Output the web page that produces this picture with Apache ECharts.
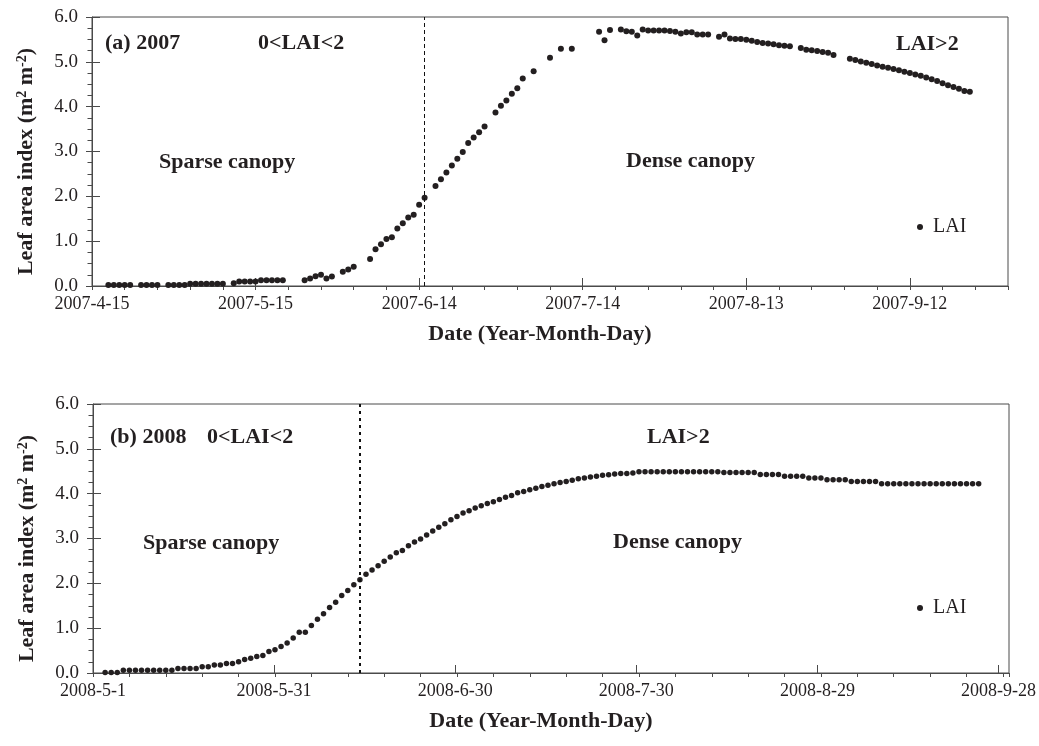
<!DOCTYPE html>
<html>
<head>
<meta charset="utf-8">
<script src="https://cdn.jsdelivr.net/npm/echarts@6/dist/echarts.min.js"></script>
<style>
  html, body { margin: 0; background: #fff; }
  #chart { width: 1039px; height: 746px; }
</style>
</head>
<body>
<div id="chart"></div>
<script>
// (a) 2007: days after 2007-04-15 and LAI (m2 m-2)
const dayA = [
  3, 4, 5, 6, 7,
  9, 10, 11, 12,
  14, 15, 16, 17, 18, 19, 20, 21, 22, 23, 24,
  26, 27, 28, 29, 30, 31, 32, 33, 34, 35,
  39, 40, 41, 42, 43, 44,
  46, 47, 48,
  51, 52, 53, 54, 55, 56, 57, 58, 59, 60, 61,
  63, 64, 65, 66, 67, 68, 69, 70, 71, 72,
  74, 75, 76, 77, 78, 79,
  81, 84, 86, 88,
  93, 94, 95,
  97, 98, 99, 100, 101, 102, 103, 104, 105, 106, 107, 108, 109, 110, 111, 112, 113,
  115, 116, 117, 118, 119, 120, 121, 122, 123, 124, 125, 126, 127, 128,
  130, 131, 132, 133, 134, 135, 136,
  139, 140, 141, 142, 143, 144, 145, 146, 147, 148, 149, 150, 151, 152, 153, 154, 155, 156, 157, 158, 159, 160, 161
]
const laiA = [
  0.02, 0.02, 0.02, 0.02, 0.02,
  0.02, 0.02, 0.02, 0.02,
  0.02, 0.02, 0.02, 0.02, 0.05, 0.05, 0.05, 0.05, 0.05, 0.05, 0.05,
  0.06, 0.10, 0.10, 0.10, 0.10, 0.13, 0.13, 0.13, 0.13, 0.13,
  0.13, 0.17, 0.22, 0.25, 0.17, 0.21,
  0.32, 0.37, 0.43,
  0.60, 0.82, 0.93, 1.05, 1.09, 1.28, 1.40, 1.53, 1.59, 1.81, 1.97,
  2.23, 2.38, 2.53, 2.69, 2.84, 2.99, 3.19, 3.31, 3.43, 3.56,
  3.87, 4.02, 4.14, 4.29, 4.41, 4.63,
  4.79, 5.09, 5.29, 5.29,
  5.67, 5.48, 5.71,
  5.72, 5.68, 5.67, 5.59, 5.72, 5.70, 5.70, 5.70, 5.70, 5.69, 5.67, 5.63, 5.66, 5.66, 5.61, 5.61, 5.61,
  5.56, 5.61, 5.52, 5.51, 5.51, 5.49, 5.47, 5.44, 5.42, 5.41, 5.39, 5.37, 5.36, 5.35,
  5.31, 5.27, 5.26, 5.24, 5.22, 5.20, 5.15,
  5.07, 5.04, 5.01, 4.98, 4.95, 4.92, 4.89, 4.87, 4.84, 4.81, 4.78, 4.75, 4.72, 4.69, 4.65, 4.61, 4.57, 4.52, 4.48, 4.44, 4.40, 4.35, 4.33
]

// (b) 2008: daily LAI from 2008-05-03 (day 2 after 2008-05-01)
const firstDayB = 2
const laiB = [
  0.01, 0.01, 0.01,
  0.06, 0.06, 0.06, 0.06, 0.06, 0.06, 0.06, 0.06, 0.06,
  0.10, 0.10, 0.10, 0.10,
  0.14, 0.14, 0.18, 0.18, 0.21, 0.21,
  0.25, 0.30, 0.33, 0.37, 0.39, 0.48, 0.52, 0.59, 0.67, 0.78,
  0.91, 0.91, 1.06, 1.20, 1.32, 1.46, 1.58, 1.73, 1.84, 1.97,
  2.08, 2.20, 2.30, 2.39, 2.49, 2.59, 2.68, 2.73, 2.84, 2.92,
  2.99, 3.08, 3.17, 3.25, 3.33, 3.42, 3.49, 3.57, 3.62, 3.68,
  3.73, 3.78, 3.82, 3.87, 3.92, 3.96, 4.02, 4.05, 4.09, 4.12,
  4.16, 4.19, 4.22, 4.25, 4.27, 4.30, 4.33, 4.35, 4.37, 4.39,
  4.41, 4.42, 4.44, 4.45, 4.45, 4.46,
  4.49, 4.49, 4.49, 4.49, 4.49, 4.49, 4.49, 4.49, 4.49, 4.49, 4.49, 4.49, 4.49, 4.49,
  4.47, 4.47, 4.47, 4.47, 4.47, 4.47,
  4.43, 4.43, 4.43, 4.43,
  4.39, 4.39, 4.39, 4.39,
  4.35, 4.35, 4.35,
  4.31, 4.31, 4.31, 4.31,
  4.27, 4.27, 4.27, 4.27, 4.27,
  4.22, 4.22, 4.22, 4.22, 4.22, 4.22, 4.22, 4.22, 4.22, 4.22, 4.22, 4.22, 4.22, 4.22, 4.22, 4.22, 4.22
]
const dayB = laiB.map((_, i) => firstDayB + i)

// 轴范围: 起始日期 / 总天数 / 分界线(日)
const startA = Date.UTC(2007, 3, 15)
const startB = Date.UTC(2008, 4, 1)
const spanA = 168   // 2007-09-30
const spanB = 151   // 2008-09-29
const lastMajor = 150
const splitA = 61   // 2007-06-15
const splitB = 44   // 2008-06-14

const FONT = '"Liberation Serif", "Times New Roman", serif'
const INK = '#231f20'
const AXIS = '#4a4a4a'

const fmtDate = base => v => {
  if (v % 30 !== 0) return ''
  const d = new Date(base + v * 864e5)
  return d.getUTCFullYear() + '-' + (d.getUTCMonth() + 1) + '-' + d.getUTCDate()
}

const PLOT_W = 916
const PLOT_H = 269
const panels = [
  { left: 92, top: 17, span: spanA },
  { left: 93, top: 404, span: spanB }
]

// 每个面板两个重叠grid: 完整grid(6天刻度) + 主刻度grid(30天, 标签)
const grid = []
panels.forEach(p => {
  grid.push({ left: p.left, top: p.top, width: PLOT_W, height: PLOT_H, show: true, borderColor: AXIS, borderWidth: 1, containLabel: false })
  grid.push({ left: p.left, top: p.top, width: PLOT_W * lastMajor / p.span, height: PLOT_H, containLabel: false })
})

const minorX = (gi, span) => ({
  type: 'value', gridIndex: gi, min: 0, max: span, interval: 6,
  axisLine: { show: true, onZero: false, lineStyle: { color: AXIS, width: 1 } },
  axisTick: { show: true, length: 4, lineStyle: { color: AXIS } },
  axisLabel: { show: false },
  splitLine: { show: false },
  name: 'Date (Year-Month-Day)',
  nameLocation: 'middle',
  nameGap: 37,
  nameTextStyle: { fontFamily: FONT, fontWeight: 'bold', fontSize: 22, color: INK, padding: [0, 20, 0, 0] }
})
const majorX = (gi, base) => ({
  type: 'value', gridIndex: gi, min: 0, max: lastMajor, interval: 30,
  axisLine: { show: false },
  axisTick: { show: true, inside: true, length: 8, lineStyle: { color: AXIS } },
  axisLabel: { show: true, margin: 9, formatter: fmtDate(base), fontFamily: FONT, fontSize: 18, color: INK },
  splitLine: { show: false }
})
const mainY = gi => ({
  type: 'value', gridIndex: gi, min: 0, max: 6, interval: 1,
  axisLine: { show: true, onZero: false, lineStyle: { color: AXIS, width: 1 } },
  axisTick: { show: true, length: 6, lineStyle: { color: AXIS } },
  minorTick: { show: true, splitNumber: 4, length: 4.5, lineStyle: { color: AXIS } },
  axisLabel: { margin: 14, formatter: v => v.toFixed(1), fontFamily: FONT, fontSize: 19, color: INK },
  splitLine: { show: false },
  name: 'Leaf area index (m{s|2} m{s|-2})',
  nameLocation: 'middle',
  nameGap: 55,
  nameTextStyle: {
    fontFamily: FONT, fontWeight: 'bold', fontSize: 22, color: INK, padding: [0, 20, 0, 0],
    rich: { s: { fontFamily: FONT, fontWeight: 'bold', fontSize: 14, color: INK, verticalAlign: 'top' } }
  }
})
// 主刻度向内的部分
const innerY = gi => ({
  type: 'value', gridIndex: gi, min: 0, max: 6, interval: 1,
  axisLine: { show: false },
  axisTick: { show: true, inside: true, length: 8, lineStyle: { color: AXIS } },
  axisLabel: { show: false },
  splitLine: { show: false }
})

const markLine = (x, style) => ({
  silent: true,
  symbol: ['none', 'none'],
  label: { show: false },
  lineStyle: style,
  data: [{ xAxis: x }]
})

const annotate = (text, x, y) => ({
  type: 'text', x, y, silent: true,
  style: { text, fill: INK, font: 'bold 22px ' + FONT, align: 'left', verticalAlign: 'middle' }
})

const legend = top => ({
  data: ['LAI'], left: 917, top, padding: 0, selectedMode: false,
  icon: 'circle', itemWidth: 6, itemHeight: 6,
  textStyle: { fontFamily: FONT, fontSize: 20, color: INK, padding: [0, 0, 0, 5] }
})

const chart = echarts.init(document.getElementById('chart'))
chart.setOption({
  animation: false,
  backgroundColor: '#fff',
  grid,
  xAxis: [minorX(0, spanA), majorX(1, startA), minorX(2, spanB), majorX(3, startB)],
  yAxis: [mainY(0), innerY(1), mainY(2), innerY(3)],
  legend: [legend(217), legend(598)],
  series: [
    {
      name: 'LAI', type: 'scatter', xAxisIndex: 0, yAxisIndex: 0,
      symbolSize: 6, itemStyle: { color: INK, opacity: 1 },
      data: dayA.map((d, i) => [d, laiA[i]]),
      markLine: markLine(splitA, { color: '#111', width: 1, type: [4, 3] })
    },
    {
      name: 'LAI', type: 'scatter', xAxisIndex: 2, yAxisIndex: 2,
      symbolSize: 5.5, itemStyle: { color: INK, opacity: 1 },
      data: dayB.map((d, i) => [d, laiB[i]]),
      markLine: markLine(splitB, { color: '#111', width: 2, type: [3, 4] })
    }
  ],
  graphic: [
    annotate('(a) 2007', 105, 43),
    annotate('0<LAI<2', 258, 43),
    annotate('Sparse canopy', 159, 162),
    annotate('Dense canopy', 626, 161),
    annotate('LAI>2', 896, 44),
    annotate('(b) 2008', 110, 437),
    annotate('0<LAI<2', 207, 437),
    annotate('Sparse canopy', 143, 543),
    annotate('LAI>2', 647, 437),
    annotate('Dense canopy', 613, 542)
  ]
})
</script>
</body>
</html>
